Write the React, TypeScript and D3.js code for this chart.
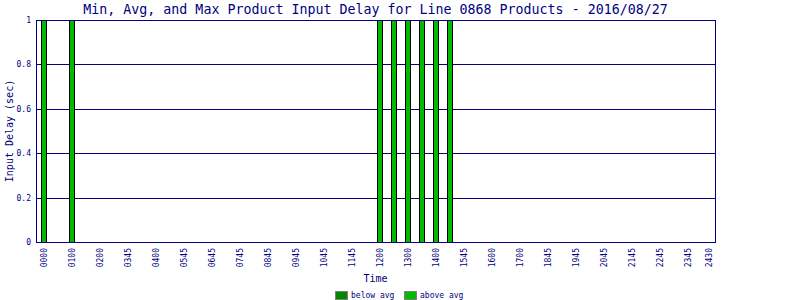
import React from "react";
import * as d3 from "d3";

// ---- data ----
const slotCount = 48; // half-hour slots
const barSlots = [0, 2, 24, 25, 26, 27, 28, 29];
const barValues = [1, 1, 1, 1, 1, 1, 1, 1];
const tickSlots = [0, 2, 4, 6, 8, 10, 12, 14, 16, 18, 20, 22, 24, 26, 28, 30, 32, 34, 36, 38, 40, 42, 44, 46, 47.5];
const tickLabels = [
  "0000", "0100", "0200", "0345", "0400", "0545", "0645", "0745", "0845", "0945",
  "1045", "1145", "1200", "1300", "1400", "1545", "1600", "1700", "1845", "1945",
  "2045", "2145", "2245", "2345", "2430",
];
const yTicks = [0, 0.2, 0.4, 0.6, 0.8, 1];
const legendNames = ["below avg", "above avg"];
const legendColors = ["#008800", "#00bb00"];

const title = "Min, Avg, and Max Product Input Delay for Line 0868 Products - 2016/08/27";

const W = 800;
const H = 300;
const left = 36;
const right = 715;
const top = 20;
const bottom = 242;
const navy = "#000080";
const mono = "'DejaVu Sans Mono', monospace";

export default function App() {
  const x = d3.scaleLinear().domain([-0.5, slotCount - 0.07]).range([37, right]);
  const y = d3.scaleLinear().domain([0, 1]).range([bottom, top]);
  const slotW = x(1) - x(0);
  const barW = slotW * 0.43;
  const cx = (left + right) / 2;

  return (
    <div style={{ position: "fixed", left: 0, top: 0 }}>
      <svg width={W} height={H} style={{ display: "block", background: "#fff" }} shapeRendering="crispEdges">
        <rect x={0} y={0} width={W} height={H} fill="#fff" />
        <text x={cx} y={14} textAnchor="middle" fontFamily={mono} fontSize={13.3} fill={navy}>
          {title}
        </text>
        {/* gridlines */}
        {yTicks.map((t) => (
          <line key={"g" + t} x1={left} x2={right} y1={Math.round(y(t)) + 0.5} y2={Math.round(y(t)) + 0.5} stroke={navy} strokeWidth={1} />
        ))}
        {/* y tick labels */}
        {yTicks.map((t) => (
          <text key={"yl" + t} x={31} y={Math.round(y(t))} dy="0.35em" textAnchor="end" fontFamily={mono} fontSize={8} fill={navy}>
            {d3.format("~g")(t)}
          </text>
        ))}
        {/* bars */}
        {barSlots.map((s, i) => {
          const bx = Math.round(x(s) - barW / 2) + 0.5;
          const by = Math.round(y(barValues[i])) + 0.5;
          return (
            <rect key={"b" + s} x={bx} y={by} width={Math.round(barW) - 1} height={Math.round(y(0)) - Math.round(y(barValues[i]))} fill={legendColors[1]} stroke="#000" strokeWidth={1} />
          );
        })}
        {/* frame */}
        <rect x={left + 0.5} y={top + 0.5} width={right - left} height={bottom - top} fill="none" stroke={navy} strokeWidth={1} />
        {/* x tick labels */}
        {tickSlots.map((s, i) => (
          <text key={"xl" + i} transform={`translate(${x(s)},248) rotate(-90)`} textAnchor="end" dy="0.35em" fontFamily={mono} fontSize={8} fill={navy}>
            {tickLabels[i]}
          </text>
        ))}
        <text x={cx} y={282} textAnchor="middle" fontFamily={mono} fontSize={10} fill={navy}>
          Time
        </text>
        <text transform={`translate(9,${(top + bottom) / 2}) rotate(-90)`} textAnchor="middle" dy="0.35em" fontFamily={mono} fontSize={10} fill={navy}>
          Input Delay (sec)
        </text>
        {/* legend */}
        {legendNames.map((n, i) => {
          const lx = 335 + i * 69;
          return (
            <g key={n}>
              <rect x={lx + 0.5} y={291.5} width={12} height={8} fill={legendColors[i]} stroke="#808080" strokeWidth={1} />
              <text x={lx + 16} y={295.5} dy="0.35em" fontFamily={mono} fontSize={8} fill={navy}>
                {n}
              </text>
            </g>
          );
        })}
      </svg>
    </div>
  );
}
